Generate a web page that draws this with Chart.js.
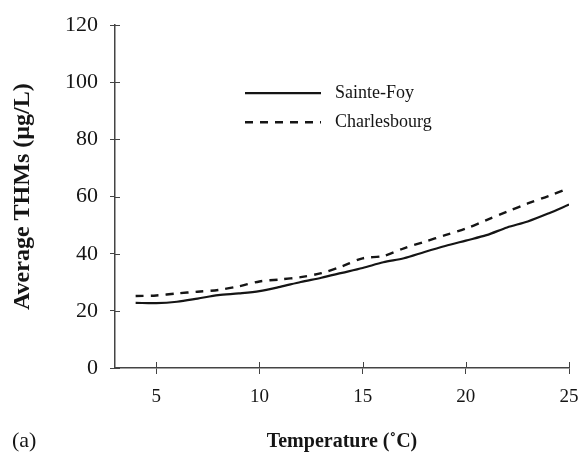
<!DOCTYPE html>
<html>
<head>
<meta charset="utf-8">
<script src="https://cdn.jsdelivr.net/npm/chart.js@4/dist/chart.umd.min.js"></script>
<style>
html,body{margin:0;padding:0;background:#fff;}
#wrap{width:578px;height:457px;}
</style>
</head>
<body>
<div id="wrap"><canvas id="c" width="578" height="457"></canvas></div>
<script>
const temperatures = [4,5,6,7,8,9,10,11,12,13,14,15,16,17,18,19,20,21,22,23,24,25];
const sainteFoy = [22.8,22.7,23.2,24.3,25.5,26.1,26.9,28.4,30.1,31.6,33.3,35.0,37.0,38.4,40.6,42.7,44.6,46.5,49.2,51.3,54.1,57.2];
const charlesbourg = [25.2,25.4,26.1,26.7,27.3,28.6,30.3,31.0,31.8,33.2,35.6,38.4,39.2,41.9,44.2,46.5,48.8,51.8,54.7,57.6,60.2,63.0];
const seriesNames = ['Sainte-Foy','Charlesbourg'];
const xTicks = [5,10,15,20,25];
const yTicks = [0,20,40,60,80,100,120];
const panelLabel = '(a)';
const xTitle = 'Temperature (\u02DAC)';
const yTitle = 'Average THMs (\u00B5g/L)';

const SERIF = '"Liberation Serif", "DejaVu Serif", serif';
const INK = '#151515';

const crossTicks = {
  id: 'crossTicks',
  afterDraw(chart) {
    const ctx = chart.ctx;
    const xs = chart.scales.x, ys = chart.scales.y;
    ctx.save();
    ctx.strokeStyle = '#444';
    ctx.lineWidth = 1;
    ys.ticks.forEach(t => {
      const y = Math.round(ys.getPixelForValue(t.value)) + 0.5;
      ctx.beginPath(); ctx.moveTo(xs.left, y); ctx.lineTo(xs.left + 5, y); ctx.stroke();
    });
    xs.ticks.forEach(t => {
      const x = Math.round(xs.getPixelForValue(t.value)) + 0.5;
      ctx.beginPath(); ctx.moveTo(x, ys.bottom); ctx.lineTo(x, ys.bottom - 6); ctx.stroke();
    });
    ctx.restore();
  }
};

const customLegend = {
  id: 'customLegend',
  afterDraw(chart) {
    const ctx = chart.ctx;
    const a = chart.chartArea;
    ctx.save();
    chart.data.datasets.forEach((ds, i) => {
      const y = a.top + 68 + i * 29;
      const x0 = a.left + 130;
      ctx.strokeStyle = ds.borderColor;
      ctx.lineWidth = ds.borderWidth;
      ctx.setLineDash(ds.borderDash || []);
      ctx.beginPath(); ctx.moveTo(x0, y); ctx.lineTo(x0 + 76, y); ctx.stroke();
      ctx.setLineDash([]);
      ctx.fillStyle = INK;
      ctx.font = '18px ' + SERIF;
      ctx.textBaseline = 'middle';
      ctx.textAlign = 'left';
      ctx.fillText(ds.label, x0 + 90, y);
    });
    ctx.font = '22px ' + SERIF;
    ctx.textBaseline = 'middle';
    ctx.fillText(panelLabel, 12, 441);
    ctx.restore();
  }
};

new Chart(document.getElementById('c'), {
  type: 'line',
  data: {
    datasets: [
      {
        label: seriesNames[0],
        data: temperatures.map((t, i) => ({x: t, y: sainteFoy[i]})),
        borderColor: INK, borderWidth: 2.2, pointRadius: 0, tension: 0.3, fill: false
      },
      {
        label: seriesNames[1],
        data: temperatures.map((t, i) => ({x: t, y: charlesbourg[i]})),
        borderColor: INK, borderWidth: 2.4, borderDash: [8, 7], pointRadius: 0, tension: 0.3, fill: false
      }
    ]
  },
  options: {
    responsive: false,
    animation: false,
    layout: { padding: { left: 0, top: 25, right: 9, bottom: 3 } },
    plugins: { legend: { display: false }, tooltip: { enabled: false } },
    scales: {
      x: {
        type: 'linear', min: 3, max: 25,
        afterBuildTicks: s => { s.ticks = xTicks.map(v => ({value: v})); },
        afterFit: s => { s.height = 457 - 3 - 368; s.paddingRight = 0; s.paddingLeft = 0; },
        border: { display: true, color: '#444', width: 1.5 },
        grid: { drawOnChartArea: false, drawTicks: true, tickLength: 6, color: '#444' },
        ticks: { color: INK, font: { family: SERIF, size: 19 }, padding: 12, maxRotation: 0 },
        title: { display: true, text: xTitle, color: INK, font: { family: SERIF, size: 20, weight: 'bold' }, padding: { top: 0, bottom: 0 } }
      },
      y: {
        min: 0, max: 120,
        afterBuildTicks: s => { s.ticks = yTicks.map(v => ({value: v})); },
        afterFit: s => { s.width = 115; },
        border: { display: true, color: '#444', width: 1.5 },
        grid: { drawOnChartArea: false, drawTicks: true, tickLength: 5, color: '#444' },
        ticks: { color: INK, font: { family: SERIF, size: 22 }, padding: 12 },
        title: { display: true, text: yTitle, color: INK, font: { family: SERIF, size: 24, weight: 'bold' }, padding: { top: 8, bottom: 0 } }
      }
    }
  },
  plugins: [crossTicks, customLegend]
});
</script>
</body>
</html>
